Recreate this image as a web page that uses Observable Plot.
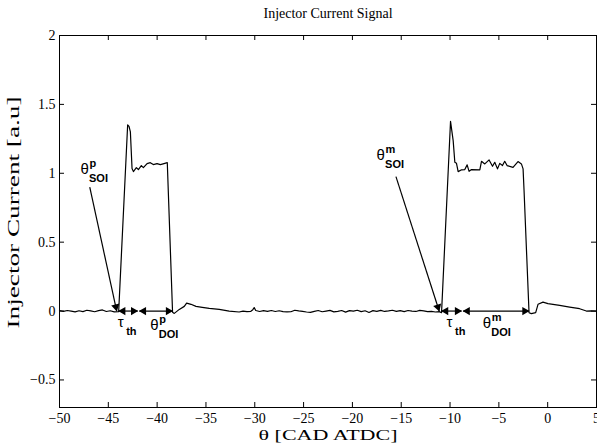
<!DOCTYPE html>
<html><head><meta charset="utf-8">
<script src="https://cdn.jsdelivr.net/npm/d3@7"></script>
<script src="https://cdn.jsdelivr.net/npm/@observablehq/plot@0.6"></script>
<style>body{margin:0;background:#fff}</style>
</head><body><div id="chart"></div>
<script>
// ---- data ----
const titleText = "Injector Current Signal";
const xLabel = "θ [CAD ATDC]";
const yLabel = "Injector Current [a.u]";
const xTicks = [-50,-45,-40,-35,-30,-25,-20,-15,-10,-5,0,5];
const yTicks = [-0.5,0,0.5,1,1.5,2];

const signalX = [
  -50,-49.6,-49.2,-48.8,-48.4,-48.0,-47.6,-47.2,-46.8,-46.4,-46.0,-45.6,-45.2,-44.8,-44.4,-43.94,
  -43.02,-42.88,-42.74,-42.57,-42.43,-42.13,-41.92,-41.62,-41.41,-41.03,-40.70,-40.39,-40.01,-39.67,-39.3,-38.96,
  -38.42,-38.24,-37.73,-37.22,-36.98,-36.53,-36.02,-35.38,-34.66,-33.64,-32.62,-31.6,
  -31.2,-30.8,-30.4,-30.2,-30.06,-29.9,-29.5,-29.1,-28.7,-28.3,-27.9,-27.5,-27.1,-26.7,-26.3,-25.9,-25.5,-25.1,
  -24.7,-24.3,-23.9,-23.5,-23.1,-22.7,-22.3,-21.9,-21.5,-21.1,-20.7,-20.3,-19.9,-19.5,-19.1,-18.7,-18.3,-17.9,
  -17.5,-17.1,-16.7,-16.3,-15.9,-15.5,-15.1,-14.7,-14.3,-13.9,-13.5,-13.1,-12.7,-12.3,-11.9,-11.5,-11.1,-10.87,
  -9.95,-9.68,-9.51,-9.34,-9.17,-8.82,-8.49,-8.25,-8.05,-7.80,-6.95,-6.78,-6.44,-6.00,-5.65,-5.42,-5.14,-4.91,
  -4.63,-4.40,-4.16,-3.55,-3.04,-2.69,-2.52,-2.42,
  -1.91,-1.67,-1.23,-0.99,-0.48,0.03,0.54,1.23,2.25,3.27,3.96,4.4,5.0
];
const signalY = [
  0.003,-0.002,0.004,0.000,-0.006,0.002,-0.004,0.006,0.001,-0.005,0.003,0.008,-0.003,0.002,-0.006,-0.005,
  1.351,1.34,1.30,1.034,1.012,1.041,1.027,1.056,1.041,1.070,1.077,1.063,1.070,1.063,1.07,1.077,
  -0.009,-0.017,0.012,0.034,0.058,0.049,0.034,0.027,0.019,0.012,0.000,-0.007,
  0.000,-0.004,-0.002,0.010,0.025,0.004,-0.003,0.003,-0.002,0.004,-0.003,0.002,-0.004,-0.006,-0.005,0.006,0.001,-0.003,
  -0.007,-0.010,-0.002,0.004,-0.005,0.000,0.005,-0.006,-0.002,0.004,-0.008,0.003,-0.001,0.006,-0.004,0.002,-0.010,0.003,
  -0.002,0.005,-0.003,0.001,0.006,-0.002,0.003,-0.004,0.004,0.000,-0.003,0.005,0.001,-0.004,-0.002,-0.007,-0.004,-0.012,
  1.377,1.237,1.080,1.072,1.012,1.025,1.027,1.061,1.014,1.027,1.025,1.087,1.068,1.097,1.051,1.080,1.032,1.072,
  1.056,1.087,1.056,1.043,1.085,1.068,1.032,0.875,
  -0.012,-0.019,-0.012,0.049,0.065,0.054,0.049,0.041,0.029,0.017,0.000,0.002,0.000
];

// annotation pointers (SOI arrows)
const pointerX1 = [-46.90, -15.54];
const pointerY1 = [0.899, 0.976];
const pointerX2 = [-44.14, -11.11];
const pointerY2 = [0, 0];
// double-headed span arrows at y = 0
const spanX1 = [-43.94, -41.82, -10.87, -8.66];
const spanX2 = [-41.99, -38.42, -8.82, -1.91];
const spanY = [0, 0, 0, 0];
// labels
const labelBase = ["θ","θ","θ","θ","τ","τ"];
const labelSup  = ["p","m","p","m","",""];
const labelSub  = ["SOI","SOI","DOI","DOI","th","th"];
const labelX = [-47.85, -17.52, -40.70, -6.65, -44.04, -10.36];
const labelY = [0.998, 1.096, -0.140, -0.125, -0.116, -0.116];

// ---- build ----
const W = 597, H = 447, mT = 35, mB = 40, mL = 59, mR = 1;
const plotW = W - mL - mR, plotH = H - mT - mB;
const kx = plotW / 55, ky = plotH / 2.7;

const signal = signalX.map((x, i) => ({x, y: signalY[i]}));
const pointers = pointerX1.map((x1, i) => ({x1, y1: pointerY1[i], x2: pointerX2[i], y2: pointerY2[i]}));
const spans = spanX1.map((x1, i) => ({x1, x2: spanX2[i], y: spanY[i]}));
const labels = labelBase.map((b, i) => ({b, sup: labelSup[i], sub: labelSub[i], x: labelX[i], y: labelY[i]}));

function head(tx, ty, fx, fy) {
  const vx = (tx - fx) * kx, vy = -(ty - fy) * ky;
  const L = Math.hypot(vx, vy), ux = vx / L, uy = vy / L, off = 4.3;
  return {x: tx - ux * off / kx, y: ty + uy * off / ky, r: Math.atan2(ux, -uy) * 180 / Math.PI};
}
const heads = [
  ...pointers.map(p => head(p.x2, p.y2, p.x1, p.y1)),
  ...spans.flatMap(s => [head(s.x1, s.y, s.x2, s.y), head(s.x2, s.y, s.x1, s.y)])
];

// y-axis title placement (left of the frame, centred a little above the middle)
const yLabelPos = {x: -50 - 45.5 / kx, y: 2 - (212 - mT) / ky};

const serif = "'Liberation Serif', 'Times New Roman', serif";
const sans = "'Liberation Sans', Arial, sans-serif";
const fmt = d => String(d).replace("-", "\u2212");

const chart = Plot.plot({
  width: W, height: H,
  marginTop: mT, marginBottom: mB, marginLeft: mL, marginRight: mR,
  style: {fontFamily: serif, fontSize: "14px", background: "#fff", color: "#000"},
  x: {domain: [-50, 5]},
  y: {domain: [-0.7, 2]},
  marks: [
    Plot.axisX(xTicks, {tickSize: 0, tickPadding: 6, fontSize: 14, label: null, tickFormat: fmt}),
    Plot.axisY(yTicks, {tickSize: 0, tickPadding: 4, fontSize: 14, label: null, tickFormat: fmt}),
    // inward ticks on all four sides
    Plot.tickX(xTicks, {x: d => d, insetTop: plotH - 5, stroke: "#000"}),
    Plot.tickX(xTicks, {x: d => d, insetBottom: plotH - 5, stroke: "#000"}),
    Plot.tickY(yTicks, {y: d => d, insetRight: plotW - 5, stroke: "#000"}),
    Plot.tickY(yTicks, {y: d => d, insetLeft: plotW - 5, stroke: "#000"}),
    Plot.line(signal, {x: "x", y: "y", stroke: "#000", strokeWidth: 1.2}),
    Plot.link(pointers, {x1: "x1", y1: "y1", x2: "x2", y2: "y2", stroke: "#000", strokeWidth: 1.2}),
    Plot.link(spans, {x1: "x1", x2: "x2", y1: "y", y2: "y", stroke: "#000", strokeWidth: 1.2}),
    Plot.dot(heads, {x: "x", y: "y", rotate: "r", symbol: "triangle", r: 3.1, fill: "#000", stroke: "none"}),
    Plot.text(labels, {x: "x", y: "y", text: "b", textAnchor: "start", lineAnchor: "bottom", fontFamily: sans, fontSize: 15, fill: "#000"}),
    Plot.text(labels, {x: "x", y: "y", text: "sup", textAnchor: "start", lineAnchor: "bottom", dx: 9, dy: -7, fontFamily: sans, fontSize: 11, fontWeight: "bold", fill: "#000"}),
    Plot.text(labels, {x: "x", y: "y", text: "sub", textAnchor: "start", lineAnchor: "bottom", dx: 8.5, dy: 8, fontFamily: sans, fontSize: 11, fontWeight: "bold", fill: "#000"}),
    Plot.frame({stroke: "#000", strokeWidth: 1}),
    Plot.text([titleText], {frameAnchor: "top", dy: -18, lineAnchor: "bottom", fontSize: 14, fontFamily: serif, fill: "#000"}),
    Plot.text([xLabel], {frameAnchor: "bottom", dy: 32, lineAnchor: "bottom", fontSize: 15, fontFamily: serif, fill: "#000"}),
    Plot.text([yLabel], {x: () => yLabelPos.x, y: () => yLabelPos.y, rotate: -90, lineAnchor: "middle", fontSize: 16, fontFamily: serif, fill: "#000"})
  ]
});
// the reference's axis titles are drawn stretched along their length
d3.select(chart).selectAll("text").each(function () {
  if (this.textContent === xLabel) d3.select(this).attr("textLength", 139).attr("lengthAdjust", "spacingAndGlyphs");
  if (this.textContent === yLabel) d3.select(this).attr("textLength", 232).attr("lengthAdjust", "spacingAndGlyphs");
});
document.getElementById("chart").appendChild(chart);
</script>
</body></html>
